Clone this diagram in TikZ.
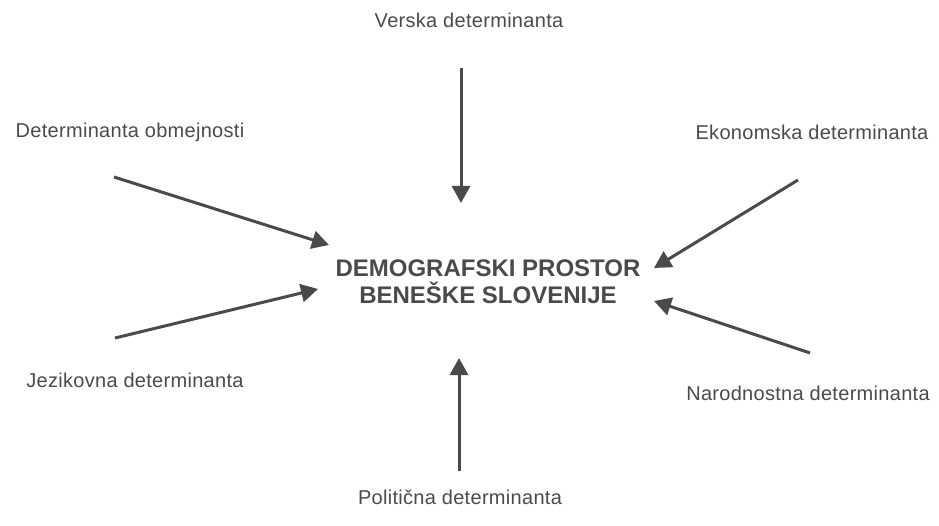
\documentclass[tikz,border=0pt]{standalone}
\usepackage{fontspec}
\setmainfont{Liberation Sans}
\usetikzlibrary{positioning,arrows.meta}
\definecolor{ink}{HTML}{4A4A4A}
\tikzset{>={Triangle[length=17pt,width=18pt]}}
\newcommand*{\lbl}[1]{\fontsize{20}{23}\selectfont\addfontfeature{LetterSpace=1.5}#1}

\begin{document}
\begin{tikzpicture}[x=1pt,y=-1pt]
\useasboundingbox (0,0) rectangle (939,526);
\tikzset{det/.style={text=ink,inner sep=0pt},
  arr/.style={->,draw=ink,fill=ink,line width=3pt}}
% labels
\node[det] (verska) at (469,20) {\lbl{Verska determinanta}};
\node[det] (obmej) at (130,132) {\lbl{Determinanta obmejnosti}};
\node[det] (ekon) at (812,132) {\lbl{Ekonomska determinanta}};
\node[det] (jezik) at (135,380) {\lbl{Jezikovna determinanta}};
\node[det] (narod) at (808,393) {\lbl{Narodnostna determinanta}};
\node[det] (polit) at (460,497) {\lbl{Politična determinanta}};
\node[det,align=center,font=\bfseries\fontsize{24}{27}\selectfont] (prostor) at (488,282)
  {DEMOGRAFSKI PROSTOR\\BENEŠKE SLOVENIJE};
% arrow ends
\coordinate (V1) at (461,68);
\coordinate (V2) at (461,203);
\coordinate (O1) at (114,177);
\coordinate (O2) at (329,245);
\coordinate (E1) at (798,180);
\coordinate (E2) at (654,268);
\coordinate (J1) at (115,338);
\coordinate (J2) at (318,289);
\coordinate (N1) at (810,353);
\coordinate (N2) at (654,301);
\coordinate (P1) at (459,471);
\coordinate (P2) at (459,358);
\draw[arr] (V1) -- (V2);
\draw[arr] (O1) -- (O2);
\draw[arr] (E1) -- (E2);
\draw[arr] (J1) -- (J2);
\draw[arr] (N1) -- (N2);
\draw[arr] (P1) -- (P2);
\end{tikzpicture}
\end{document}
